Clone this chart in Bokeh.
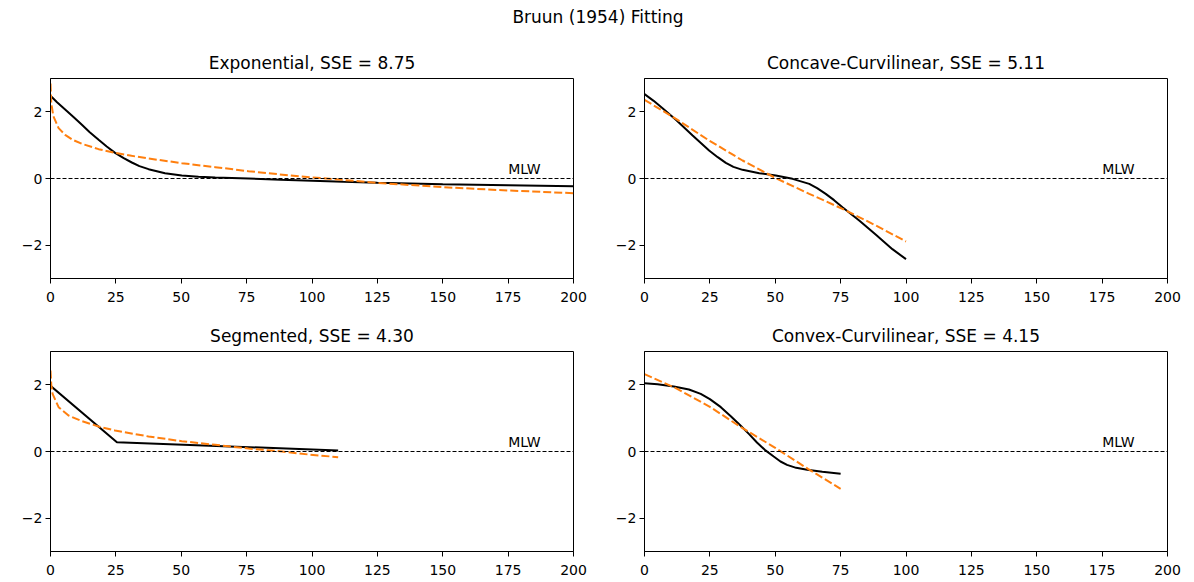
from bokeh.plotting import figure
from bokeh.models import Span, Label, FixedTicker, Div, Range1d
from bokeh.layouts import gridplot, column
from bokeh.embed import file_html
from bokeh.resources import INLINE

SUPTITLE = "Bruun (1954) Fitting"
TITLES = ["Exponential, SSE = 8.75", "Concave-Curvilinear, SSE = 5.11",
          "Segmented, SSE = 4.30", "Convex-Curvilinear, SSE = 4.15"]
X_TICKS = [0, 25, 50, 75, 100, 125, 150, 175, 200]
Y_TICKS = [-2, 0, 2]
Y_TICK_LABELS = {-2: "\u22122", 0: "0", 2: "2"}
MLW_TEXT = "MLW"
MLW_X = 175
MLW_Y = 0.05

# Exponential profile
exp_x = [0, 2.5, 5.6, 9, 12, 15, 18.4, 21.5, 24.7, 28, 31.1, 34, 37.5, 43.8, 50.2, 56.6,
         63, 75.7, 88, 100, 112, 125, 150, 175, 200]
exp_z = [2.48, 2.29, 2.07, 1.83, 1.61, 1.39, 1.16, 0.96, 0.77, 0.61, 0.48, 0.37, 0.28,
         0.16, 0.09, 0.05, 0.03, 0.0, -0.04, -0.07, -0.10, -0.13, -0.17, -0.20, -0.23]
exp_fit_x = [0, 0.3, 1.1, 3.1, 5.6, 8.5, 12, 18.4, 24.7, 31, 37.5, 50.2, 63, 75.7,
             95.6, 110, 125, 150, 175, 200]
exp_fit_z = [2.85, 2.25, 1.87, 1.51, 1.31, 1.16, 1.04, 0.88, 0.77, 0.68, 0.60, 0.46,
             0.34, 0.22, 0.06, -0.03, -0.13, -0.26, -0.36, -0.44]

# Concave-curvilinear profile
cc_x = [0, 3.5, 6.9, 12, 18.4, 24.7, 28, 31.1, 34, 37.5, 43.9, 50.2, 56.6, 63, 66, 69.3,
        72.5, 75.7, 82.1, 88.5, 94.8, 100]
cc_z = [2.53, 2.33, 2.11, 1.76, 1.29, 0.84, 0.64, 0.47, 0.35, 0.26, 0.16, 0.09, -0.01,
        -0.16, -0.29, -0.46, -0.65, -0.86, -1.26, -1.69, -2.12, -2.42]
cc_fit_x = [0, 12, 24.7, 37.5, 50.2, 63, 75.7, 88.5, 100]
cc_fit_z = [2.36, 1.79, 1.14, 0.54, 0.01, -0.46, -0.91, -1.41, -1.89]

# Segmented profile
seg_x = [0, 25.4, 110]
seg_z = [1.97, 0.28, 0.03]
seg_fit_x = [0, 0.3, 0.8, 3.1, 6.9, 12, 18.4, 24.7, 37.5, 50.2, 63, 75.7, 88.5,
             98.7, 110]
seg_fit_z = [2.43, 2.0, 1.73, 1.33, 1.08, 0.91, 0.75, 0.63, 0.45, 0.31, 0.20, 0.09,
             0.0, -0.09, -0.17]

# Convex-curvilinear profile
cv_x = [0, 5, 11.2, 17, 21.5, 25, 29.2, 33, 36.7, 40, 43, 46, 49.4, 52, 54.5, 58, 62.2,
        68, 75]
cv_z = [2.05, 2.02, 1.95, 1.86, 1.73, 1.57, 1.33, 1.06, 0.78, 0.52, 0.27, 0.05, -0.15,
        -0.30, -0.40, -0.49, -0.55, -0.61, -0.67]
cv_fit_x = [0, 12.5, 25, 37.5, 50, 62.5, 75]
cv_fit_z = [2.32, 1.88, 1.34, 0.70, 0.11, -0.52, -1.12]

FONT = "DejaVu Sans"
BLACK = "black"
ORANGE = "#ff7f0e"


def make_fig(title, px, pz, fx, fz, left, right, top, bottom):
    p = figure(frame_width=523, frame_height=200,
               x_range=Range1d(0, 200), y_range=Range1d(-3, 3),
               output_backend="svg", toolbar_location=None,
               min_border_left=left, min_border_right=right,
               min_border_top=top, min_border_bottom=bottom)
    p.title.text = title
    p.title.align = "center"
    p.title.text_font = FONT
    p.title.text_font_size = "17px"
    p.title.text_font_style = "normal"
    p.title.text_color = "black"
    p.title.standoff = 12
    p.xgrid.visible = False
    p.ygrid.visible = False
    p.outline_line_color = "black"
    p.outline_line_alpha = 1.0
    p.outline_line_width = 1
    for ax in (p.xaxis[0], p.yaxis[0]):
        ax.axis_line_color = "black"
        ax.major_tick_line_color = "black"
        ax.major_tick_in = 0
        ax.major_tick_out = 5
        ax.minor_tick_line_color = None
        ax.major_label_text_font = FONT
        ax.major_label_text_font_size = "14px"
        ax.major_label_text_color = "black"
    p.xaxis[0].major_label_standoff = 8
    p.yaxis[0].major_label_standoff = 3
    p.xaxis[0].ticker = FixedTicker(ticks=X_TICKS)
    p.yaxis[0].ticker = FixedTicker(ticks=Y_TICKS)
    p.yaxis[0].major_label_overrides = Y_TICK_LABELS
    p.add_layout(Span(location=0, dimension="width", line_color="black",
                      line_width=1, line_dash="4 2"))
    p.line(px, pz, line_color=BLACK, line_width=2)
    p.line(fx, fz, line_color=ORANGE, line_width=2, line_dash="8 3")
    p.add_layout(Label(x=MLW_X, y=MLW_Y, text=MLW_TEXT, text_font=FONT,
                       text_font_size="14px", text_color="black",
                       text_baseline="bottom"))
    return p


p1 = make_fig(TITLES[0], exp_x, exp_z, exp_fit_x, exp_fit_z, 50, 20, 42, 30)
p2 = make_fig(TITLES[1], cc_x, cc_z, cc_fit_x, cc_fit_z, 51, 19, 42, 30)
p3 = make_fig(TITLES[2], seg_x, seg_z, seg_fit_x, seg_fit_z, 50, 20, 43, 23)
p4 = make_fig(TITLES[3], cv_x, cv_z, cv_fit_x, cv_fit_z, 51, 19, 43, 23)

grid = gridplot([[p1, p2], [p3, p4]], toolbar_location=None)
div = Div(text=SUPTITLE, width=1186, height=26,
          styles={"text-align": "center", "font-size": "17px",
                  "font-family": FONT, "color": "black"})
layout = column(div, grid)

open("out.html", "w").write(file_html(layout, INLINE))
